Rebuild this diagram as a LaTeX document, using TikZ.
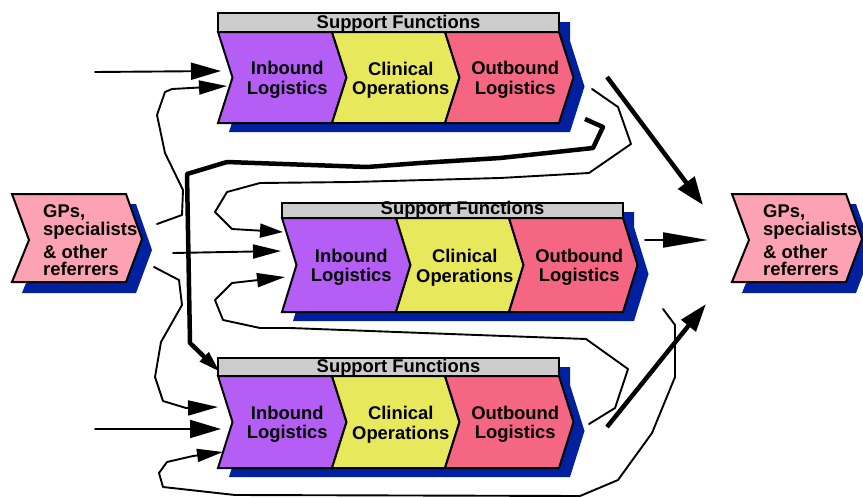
\documentclass[tikz,border=0pt]{standalone}
\usepackage{fontspec}
\setmainfont{Liberation Sans}
\usetikzlibrary{arrows.meta}

\definecolor{inbound}{RGB}{180,94,246}
\definecolor{clinical}{RGB}{232,232,92}
\definecolor{outbound}{RGB}{244,102,130}
\definecolor{referrer}{RGB}{252,162,178}
\definecolor{supportgray}{RGB}{204,204,204}
\definecolor{shadowblue}{RGB}{0,32,160}

\tikzset{
  seg/.style={draw=black, line width=2pt, line join=miter},
  dropshade/.style={fill=shadowblue, draw=none},
  lbl/.style={font=\bfseries\fontsize{18.4}{19.5}\selectfont, align=center, inner sep=0pt},
  suplbl/.style={font=\bfseries\fontsize{18.4}{19.5}\selectfont, inner sep=0pt, anchor=base},
  reflbl/.style={font=\bfseries\fontsize{18.4}{18}\selectfont, align=left, inner sep=0pt, anchor=north west},
  flow/.style={line width=1.9pt, line join=round, line cap=round},
  heavy/.style={line width=4.5pt, line join=round},
}

% value chain: #1 name prefix, #2 left x, #3 bar top, #4 chevron top, #5 chevron bottom
\newcommand\valuechain[5]{%
  \pgfmathsetmacro\xa{#2}%
  \pgfmathsetmacro\xb{#2+114}%
  \pgfmathsetmacro\xc{#2+227}%
  \pgfmathsetmacro\xd{#2+341}%
  \pgfmathsetmacro\ym{(#4+#5)/2}%
  \def\dd{14.5}%
  \fill[dropshade] ({\xa+11},{#3+9}) -- ({\xd+11},{#3+9}) -- ({\xd+11},{#4+9})
    -- ({\xd+\dd+11},{\ym+9}) -- ({\xd+11},{#5+9}) -- ({\xa+11},{#5+9})
    -- ({\xa+\dd+11},{\ym+9}) -- cycle;
  \draw[seg, fill=supportgray] (\xa,#3) rectangle (\xd,#4);
  \draw[seg, fill=inbound] (\xa,#4) -- (\xb,#4) -- ({\xb+\dd},\ym) -- (\xb,#5)
    -- (\xa,#5) -- ({\xa+\dd},\ym) -- cycle;
  \draw[seg, fill=clinical] (\xb,#4) -- (\xc,#4) -- ({\xc+\dd},\ym) -- (\xc,#5)
    -- (\xb,#5) -- ({\xb+\dd},\ym) -- cycle;
  \draw[seg, fill=outbound] (\xc,#4) -- (\xd,#4) -- ({\xd+\dd},\ym) -- (\xd,#5)
    -- (\xc,#5) -- ({\xc+\dd},\ym) -- cycle;
  \node[lbl] (#1in)  at ({(\xa+\xb+\dd)/2+5},{\ym+2.5}) {Inbound\\Logistics};
  \node[lbl] (#1cl)  at ({(\xb+\xc+\dd)/2+5},{\ym+2.5}) {Clinical\\Operations};
  \node[lbl] (#1out) at ({(\xc+\xd+\dd)/2+6},{\ym+2.5}) {Outbound\\Logistics};
  \node[suplbl] (#1sup) at ({(\xa+\xd)/2+10},{#4-4}) {Support Functions};
}

% referrer chevron: #1 name, #2 left x
\newcommand\referrerbox[2]{%
  \fill[dropshade] ({#2+10},204) -- ({#2+124},204) -- ({#2+140},250) -- ({#2+124},293)
    -- ({#2+10},293) -- ({#2+27},250) -- cycle;
  \draw[seg, fill=referrer] (#2,194) -- ({#2+114},194) -- ({#2+130},239) -- ({#2+114},282)
    -- (#2,282) -- ({#2+17},240) -- cycle;
  \node[reflbl] (#1) at ({#2+31},204) {GPs,\\specialists\\[5pt]\&~other\\[-1pt]referrers};
}

\begin{document}
\begin{tikzpicture}[x=1pt, y=-1pt]
  \useasboundingbox (0,0) rectangle (863,498);

  % referrers on both sides
  \referrerbox{gpLeft}{12}
  \referrerbox{gpRight}{732}

  % the three value chains
  \valuechain{top}{218}{13}{32}{123}
  \valuechain{mid}{282}{203}{218}{312}
  \valuechain{bot}{218}{358}{376}{468}

  % connector end points
  \coordinate (feedT) at (95,72);
  \coordinate (tInA) at (221,71);
  \coordinate (gpL1) at (157,224);
  \coordinate (tInB) at (227,86);
  \coordinate (tOutC) at (585,119);
  \coordinate (bInC) at (220,372);
  \coordinate (tOutD) at (592,89);
  \coordinate (mInD) at (283,232);
  \coordinate (gpL2) at (173,253);
  \coordinate (mInE) at (281,251);
  \coordinate (bOutF) at (589,424);
  \coordinate (mInF) at (285,277);
  \coordinate (mOutG) at (663,309);
  \coordinate (bInG) at (223,452);
  \coordinate (gpL3) at (154,267);
  \coordinate (bInH) at (218,407);
  \coordinate (feedB) at (95,429);
  \coordinate (bInI) at (221,429);
  \coordinate (tOutJ) at (607,77);
  \coordinate (gpRJ) at (703,205);
  \coordinate (mOutK) at (645,240);
  \coordinate (gpRK) at (708,240);
  \coordinate (bOutL) at (607,427);
  \coordinate (gpRL) at (706,304);

  % flows into the top chain
  \draw[flow, -{Triangle[length=30pt,width=17pt]}] (feedT) -- (tInA);
  \draw[flow, -{Triangle[length=28pt,width=14pt]}] (gpL1) -- (182,215) -- (183,190)
    -- (165,153) -- (157,115) -- (165,92) -- (172,89) -- (tInB);

  % heavy loop from the top chain down to the bottom chain
  \draw[heavy, -{Triangle[length=22pt,width=12pt]}] (tOutC) -- (603,127) -- (593,148)
    -- (547,153) -- (500,158) -- (420,163) -- (367,167) -- (283,164) -- (227,162)
    -- (187,174) -- (190,343) -- (bInC);

  % flows into the middle chain
  \draw[flow, -{Triangle[length=23pt,width=14pt]}] (tOutD) -- (618,107) -- (631,144)
    -- (589,173) -- (500,178) -- (352,182) -- (260,183) -- (227,192) -- (215,212)
    -- (232,229) -- (mInD);
  \draw[flow, -{Triangle[length=28pt,width=14pt]}] (gpL2) -- (mInE);
  \draw[flow, -{Triangle[length=28pt,width=14pt]}] (bOutF) -- (615,408) -- (628,369)
    -- (586,339) -- (450,334) -- (290,328) -- (260,328) -- (223,320) -- (215,300)
    -- (232,283) -- (mInF);

  % flows into the bottom chain
  \draw[flow, -{Triangle[length=26pt,width=13pt]}] (mOutG) -- (675,325) -- (675,377)
    -- (652,433) -- (618,480) -- (580,496) -- (235,495) -- (163,487) -- (159,473)
    -- (167,462) -- (193,456) -- (bInG);
  \draw[flow, -{Triangle[length=30pt,width=15pt]}] (gpL3) -- (179,280) -- (182,305)
    -- (161,342) -- (155,377) -- (163,401) -- (186,408) -- (bInH);
  \draw[flow, -{Triangle[length=31pt,width=18pt]}] (feedB) -- (bInI);

  % outputs towards the referrers on the right
  \draw[heavy, -{Triangle[length=28pt,width=20pt]}] (tOutJ) -- (gpRJ);
  \draw[flow, -{Triangle[length=45pt,width=15pt]}] (mOutK) -- (gpRK);
  \draw[heavy, -{Triangle[length=28pt,width=18pt]}] (bOutL) -- (gpRL);
\end{tikzpicture}
\end{document}
